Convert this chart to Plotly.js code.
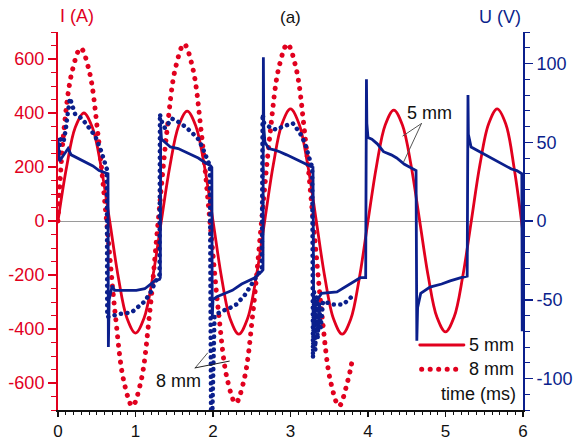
<!DOCTYPE html>
<html>
<head>
<meta charset="utf-8">
<script src="https://cdn.plot.ly/plotly-3.0.1.min.js"></script>
<style>
html,body{margin:0;padding:0;background:#fff;}
#chart{width:575px;height:441px;}
path.js-line{stroke-linecap:round !important;}
.shapelayer path{stroke-linecap:round !important;}
</style>
</head>
<body>
<div id="chart"></div>
<script>
// ---- data ----
// Current, 5 mm gap (left axis, A)
const T_I5 = [0,0.111,0.222,0.333,0.444,0.556,0.667,0.778,0.889,1.0,1.111,1.222,1.333,1.444,1.556,1.667,1.778,1.889,2.0,2.111,2.222,2.333,2.444,2.556,2.667,2.778,2.889,3.0,3.111,3.222,3.333,3.444,3.556,3.667,3.778,3.889,4.0,4.111,4.222,4.333,4.444,4.556,4.667,4.778,4.889,5.0,5.111,5.222,5.333,5.444,5.556,5.667,5.778,5.889,6.0];
const I5 = [0,200,346,400,346,200,0,-208,-359,-415,-359,-208,0,204,352,407,352,204,0,-210,-363,-419,-363,-210,0,208,359,415,359,208,0,-210,-363,-419,-363,-210,0,206,356,411,356,206,0,-206,-356,-411,-356,-206,0,208,359,415,359,190,-45];
// Current, 8 mm gap (left axis, A)
const T_I8 = [0,0.071,0.182,0.293,0.404,0.516,0.627,0.738,0.849,0.96,1.071,1.182,1.293,1.404,1.516,1.627,1.738,1.849,1.96,2.071,2.182,2.293,2.404,2.516,2.627,2.738,2.849,2.96,3.071,3.182,3.293,3.404,3.516,3.627,3.738,3.8];
const I8 = [0,320,554,640,554,320,0,-343,-593,-685,-593,-343,0,328,567,655,567,328,0,-337,-584,-674,-584,-337,0,328,567,655,567,328,0,-343,-593,-685,-593,-510];
// Voltage, 5 mm gap (right axis, V)
const T_U5 = [0,0.02,0.06,0.13,0.17,0.25,0.35,0.45,0.53,0.6,0.645,0.65,0.66,0.7,0.73,0.9,1.01,1.12,1.2,1.25,1.31,1.32,1.325,1.335,1.38,1.45,1.55,1.64,1.73,1.81,1.9,1.97,1.985,1.99,2.0,2.05,2.15,2.25,2.37,2.45,2.54,2.63,2.645,2.65,2.655,2.67,2.72,2.8,2.86,2.95,3.04,3.16,3.25,3.29,3.3,3.31,3.36,3.4,3.6,3.7,3.77,3.9,3.97,3.98,3.985,4.0,4.05,4.12,4.2,4.3,4.37,4.47,4.58,4.62,4.63,4.64,4.68,4.8,4.95,5.06,5.2,5.28,5.29,5.295,5.33,5.44,5.53,5.63,5.74,5.85,5.92,5.96,5.985,5.99,6.0];
const U5 = [52,38,41,46,42,40,38,35,32,31,30,-80,-50,-41,-44,-44,-44,-43,-40,-38,-37,-36,60,52,50,47,46,44,42,40,37,35,34,-62,-50,-48,-46,-44,-40,-38,-36,-32,-31,104,60,50,46,45,44,42,40,37,35,34,-72,-55,-49,-46,-45,-42,-40,-36,-36,90,62,53,52,49,44,42,40,36,33,32,-76,-55,-46,-42,-40,-38,-36,-35,80,55,47,44,42,39,36,33,32,31,30,-70,-55];
// Voltage, 8 mm gap (right axis, V)
const T_U8 = [0,0.03,0.07,0.1,0.13,0.155,0.18,0.22,0.31,0.39,0.48,0.56,0.61,0.63,0.635,0.7,0.8,0.95,1.03,1.12,1.21,1.25,1.29,1.31,1.315,1.33,1.38,1.47,1.55,1.64,1.73,1.81,1.87,1.92,1.96,1.975,1.99,2.02,2.05,2.12,2.19,2.3,2.41,2.5,2.58,2.63,2.64,2.66,2.75,2.82,2.9,3.03,3.12,3.19,3.23,3.27,3.28,3.29,3.305,3.32,3.335,3.35,3.37,3.39,3.42,3.55,3.68,3.77,3.81];
const U8 = [40,52,50,58,70,78,74,68,65,60,54,44,37,33,-61,-60,-59,-58,-55,-51,-44,-39,-36,-34,68,64,59,65,63,60,56,52,46,40,35,-125,-125,-60,-59,-57,-56,-53,-47,-40,-34,-30,68,62,59,58,60,62,56,49,42,36,34,-87,-45,-82,-48,-75,-52,-68,-51,-53,-53,-49,-47];
// ticks
const X_TICKS = [0,1,2,3,4,5,6];
const I_TICKS = [-600,-400,-200,0,200,400,600];
const U_TICKS = [-100,-50,0,50,100];
const SERIES_LABELS = ['5 mm','8 mm'];

const RED = '#e1001e';
const BLUE = '#0b1f8c';
const FONT = 'Liberation Sans, Arial, sans-serif';

const traces = [
  {x:T_I8, y:I8, mode:'lines', line:{color:RED, width:5, dash:'0.1px,8.4px', shape:'spline', smoothing:1}, xaxis:'x', yaxis:'y', hoverinfo:'skip'},
  {x:T_I5, y:I5, mode:'lines', line:{color:RED, width:2.8, shape:'spline', smoothing:1}, xaxis:'x', yaxis:'y', hoverinfo:'skip'},
  {x:T_U8, y:U8, mode:'lines', line:{color:BLUE, width:4.5, dash:'0.1px,6.4px'}, xaxis:'x', yaxis:'y2', hoverinfo:'skip'},
  {x:T_U5, y:U5, mode:'lines', line:{color:BLUE, width:2.8}, xaxis:'x', yaxis:'y2', hoverinfo:'skip'}
];

const layout = {
  width:575, height:441,
  margin:{l:58, r:52, t:32, b:31},
  paper_bgcolor:'#fff', plot_bgcolor:'#fff',
  showlegend:false,
  font:{family:FONT, size:18, color:'#111'},
  xaxis:{range:[0,6], tickvals:X_TICKS, ticktext:X_TICKS.map(String),
    ticks:'outside', ticklen:5, tickwidth:1.5, tickcolor:'#111',
    minor:{dtick:0.1, ticks:'outside', ticklen:3, tickwidth:1, tickcolor:'#111'},
    showline:true, linecolor:'#111', linewidth:1.5, showgrid:false, zeroline:false,
    tickfont:{family:FONT, size:17, color:'#111'}},
  xaxis2:{range:[0,6], overlaying:'x', side:'top', anchor:'y', tickvals:X_TICKS,
    ticks:'inside', ticklen:7, tickwidth:1.5, tickcolor:'#111', showticklabels:false,
    minor:{dtick:0.1, ticks:'inside', ticklen:4, tickwidth:1, tickcolor:'#111'},
    showline:true, linecolor:'#111', linewidth:1.5, showgrid:false, zeroline:false},
  yaxis:{range:[-700,700], tickvals:I_TICKS, ticktext:I_TICKS.map(String),
    ticks:'outside', ticklen:8, tickwidth:1.5, tickcolor:RED,
    minor:{dtick:50, ticks:'outside', ticklen:5, tickwidth:1, tickcolor:RED},
    showline:true, linecolor:RED, linewidth:2, showgrid:false,
    zeroline:true, zerolinecolor:'#9a9a9a', zerolinewidth:1,
    tickfont:{family:FONT, size:18, color:RED}},
  yaxis2:{range:[-120,120], overlaying:'y', side:'right', anchor:'x', tickvals:U_TICKS, ticktext:U_TICKS.map(String),
    ticks:'outside', ticklen:8, tickwidth:1.5, tickcolor:BLUE,
    minor:{dtick:10, ticks:'outside', ticklen:5, tickwidth:1, tickcolor:BLUE},
    showline:true, linecolor:BLUE, linewidth:2, showgrid:false, zeroline:false,
    tickfont:{family:FONT, size:18, color:BLUE}},
  shapes:[
    // legend samples
    {type:'line', xref:'paper', yref:'paper', x0:0.778, x1:0.873, y0:0.172, y1:0.172, line:{color:RED, width:2.8}},
    {type:'line', xref:'paper', yref:'paper', x0:0.782, x1:0.873, y0:0.108, y1:0.108, line:{color:RED, width:5, dash:'0.1px,8.4px'}},
    // leader lines "5 mm"
    {type:'line', xref:'x', yref:'y', x0:4.69, y0:361, x1:4.45, y1:315, line:{color:'#555', width:1}},
    {type:'line', xref:'x', yref:'y', x0:4.69, y0:361, x1:4.46, y1:219, line:{color:'#555', width:1}},
    // leader lines "8 mm"
    {type:'line', xref:'x', yref:'y', x0:1.77, y0:-544, x1:1.93, y1:-489, line:{color:'#555', width:1}},
    {type:'line', xref:'x', yref:'y', x0:1.77, y0:-544, x1:2.21, y1:-519, line:{color:'#222', width:1}}
  ],
  annotations:[
    {text:'(a)', xref:'paper', yref:'paper', x:0.5, y:1, yanchor:'bottom', yshift:3, showarrow:false, font:{family:FONT, size:17, color:'#111'}},
    {text:'I (A)', xref:'paper', yref:'paper', x:0, xanchor:'left', y:1, yanchor:'bottom', yshift:4, showarrow:false, font:{family:FONT, size:18, color:RED}},
    {text:'U (V)', xref:'paper', yref:'paper', x:1, xanchor:'right', y:1, yanchor:'bottom', yshift:3, showarrow:false, font:{family:FONT, size:18, color:BLUE}},
    {text:SERIES_LABELS[0], xref:'x', yref:'y', x:4.79, y:400, showarrow:false, font:{family:FONT, size:18, color:'#111'}},
    {text:SERIES_LABELS[1], xref:'x', yref:'y', x:1.56, y:-593, showarrow:false, font:{family:FONT, size:18, color:'#111'}},
    {text:SERIES_LABELS[0], xref:'paper', yref:'paper', x:0.88, xanchor:'left', y:0.172, yanchor:'middle', showarrow:false, font:{family:FONT, size:18, color:'#111'}},
    {text:SERIES_LABELS[1], xref:'paper', yref:'paper', x:0.88, xanchor:'left', y:0.108, yanchor:'middle', showarrow:false, font:{family:FONT, size:18, color:'#111'}},
    {text:'time (ms)', xref:'paper', yref:'paper', x:0.99, xanchor:'right', y:0.042, yanchor:'middle', showarrow:false, font:{family:FONT, size:18, color:'#111'}}
  ]
};

Plotly.newPlot('chart', traces, layout, {staticPlot:true, displayModeBar:false});
</script>
</body>
</html>
